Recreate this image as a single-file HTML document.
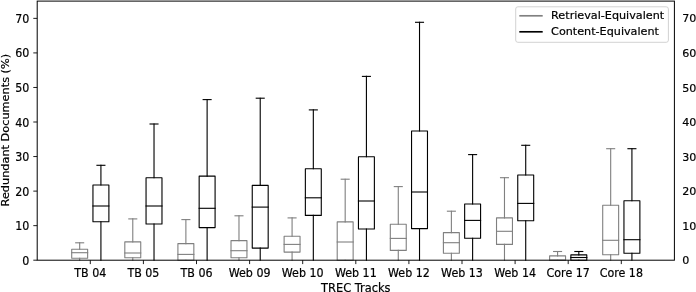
<!DOCTYPE html>
<html><head><meta charset="utf-8"><style>
html,body{margin:0;padding:0;background:#fff;}
body{width:696px;height:292px;overflow:hidden;}
svg{display:block;}
text{font-family:"DejaVu Sans","Liberation Sans",sans-serif;font-size:11.1px;fill:#000;stroke:#000;stroke-width:0.2px;}
</style></head><body>
<svg width="696" height="292" viewBox="0 0 696 292">
<rect width="696" height="292" fill="#fff"/>
<path d="M79.68 258.20V260.20M79.68 249.30V242.80" stroke="#808080" stroke-width="1.11" fill="none" stroke-linecap="square"/>
<path d="M75.70 242.80H83.66" stroke="#808080" stroke-width="1.11" fill="none" stroke-linecap="square"/>
<path d="M71.71 258.20H87.64V249.30H71.71Z" stroke="#808080" stroke-width="1.11" fill="none" stroke-linejoin="round"/>
<path d="M71.71 252.70H87.64" stroke="#808080" stroke-width="1.11" fill="none" stroke-linecap="square"/>
<path d="M100.92 221.80V260.20M100.92 185.00V165.30" stroke="#000" stroke-width="1.11" fill="none" stroke-linecap="square"/>
<path d="M96.94 165.30H104.90" stroke="#000" stroke-width="1.11" fill="none" stroke-linecap="square"/>
<path d="M92.95 221.80H108.89V185.00H92.95Z" stroke="#000" stroke-width="1.11" fill="none" stroke-linejoin="round"/>
<path d="M92.95 206.00H108.89" stroke="#000" stroke-width="1.11" fill="none" stroke-linecap="square"/>
<path d="M132.78 257.80V260.20M132.78 241.90V218.90" stroke="#808080" stroke-width="1.11" fill="none" stroke-linecap="square"/>
<path d="M128.80 218.90H136.76" stroke="#808080" stroke-width="1.11" fill="none" stroke-linecap="square"/>
<path d="M124.81 257.80H140.74V241.90H124.81Z" stroke="#808080" stroke-width="1.11" fill="none" stroke-linejoin="round"/>
<path d="M124.81 253.00H140.74" stroke="#808080" stroke-width="1.11" fill="none" stroke-linecap="square"/>
<path d="M154.02 224.00V260.20M154.02 177.70V124.00" stroke="#000" stroke-width="1.11" fill="none" stroke-linecap="square"/>
<path d="M150.04 124.00H158.00" stroke="#000" stroke-width="1.11" fill="none" stroke-linecap="square"/>
<path d="M146.05 224.00H161.98V177.70H146.05Z" stroke="#000" stroke-width="1.11" fill="none" stroke-linejoin="round"/>
<path d="M146.05 206.00H161.98" stroke="#000" stroke-width="1.11" fill="none" stroke-linecap="square"/>
<path d="M185.88 260.20V260.20M185.88 243.60V219.60" stroke="#808080" stroke-width="1.11" fill="none" stroke-linecap="square"/>
<path d="M181.90 219.60H189.86" stroke="#808080" stroke-width="1.11" fill="none" stroke-linecap="square"/>
<path d="M177.91 260.20H193.84V243.60H177.91Z" stroke="#808080" stroke-width="1.11" fill="none" stroke-linejoin="round"/>
<path d="M177.91 254.40H193.84" stroke="#808080" stroke-width="1.11" fill="none" stroke-linecap="square"/>
<path d="M207.12 227.60V260.20M207.12 176.10V99.60" stroke="#000" stroke-width="1.11" fill="none" stroke-linecap="square"/>
<path d="M203.14 99.60H211.10" stroke="#000" stroke-width="1.11" fill="none" stroke-linecap="square"/>
<path d="M199.16 227.60H215.09V176.10H199.16Z" stroke="#000" stroke-width="1.11" fill="none" stroke-linejoin="round"/>
<path d="M199.16 208.30H215.09" stroke="#000" stroke-width="1.11" fill="none" stroke-linecap="square"/>
<path d="M238.98 257.70V260.20M238.98 240.60V215.80" stroke="#808080" stroke-width="1.11" fill="none" stroke-linecap="square"/>
<path d="M235.00 215.80H242.96" stroke="#808080" stroke-width="1.11" fill="none" stroke-linecap="square"/>
<path d="M231.01 257.70H246.94V240.60H231.01Z" stroke="#808080" stroke-width="1.11" fill="none" stroke-linejoin="round"/>
<path d="M231.01 250.70H246.94" stroke="#808080" stroke-width="1.11" fill="none" stroke-linecap="square"/>
<path d="M260.22 248.10V260.20M260.22 185.40V98.20" stroke="#000" stroke-width="1.11" fill="none" stroke-linecap="square"/>
<path d="M256.24 98.20H264.20" stroke="#000" stroke-width="1.11" fill="none" stroke-linecap="square"/>
<path d="M252.25 248.10H268.18V185.40H252.25Z" stroke="#000" stroke-width="1.11" fill="none" stroke-linejoin="round"/>
<path d="M252.25 207.10H268.18" stroke="#000" stroke-width="1.11" fill="none" stroke-linecap="square"/>
<path d="M292.08 252.10V260.20M292.08 236.20V217.90" stroke="#808080" stroke-width="1.11" fill="none" stroke-linecap="square"/>
<path d="M288.10 217.90H296.06" stroke="#808080" stroke-width="1.11" fill="none" stroke-linecap="square"/>
<path d="M284.12 252.10H300.04V236.20H284.12Z" stroke="#808080" stroke-width="1.11" fill="none" stroke-linejoin="round"/>
<path d="M284.12 244.40H300.04" stroke="#808080" stroke-width="1.11" fill="none" stroke-linecap="square"/>
<path d="M313.32 215.40V260.20M313.32 168.80V109.90" stroke="#000" stroke-width="1.11" fill="none" stroke-linecap="square"/>
<path d="M309.34 109.90H317.30" stroke="#000" stroke-width="1.11" fill="none" stroke-linecap="square"/>
<path d="M305.36 215.40H321.28V168.80H305.36Z" stroke="#000" stroke-width="1.11" fill="none" stroke-linejoin="round"/>
<path d="M305.36 197.80H321.28" stroke="#000" stroke-width="1.11" fill="none" stroke-linecap="square"/>
<path d="M345.18 260.20V260.20M345.18 221.90V179.20" stroke="#808080" stroke-width="1.11" fill="none" stroke-linecap="square"/>
<path d="M341.20 179.20H349.16" stroke="#808080" stroke-width="1.11" fill="none" stroke-linecap="square"/>
<path d="M337.21 260.20H353.14V221.90H337.21Z" stroke="#808080" stroke-width="1.11" fill="none" stroke-linejoin="round"/>
<path d="M337.21 242.00H353.14" stroke="#808080" stroke-width="1.11" fill="none" stroke-linecap="square"/>
<path d="M366.42 229.00V260.20M366.42 156.80V76.40" stroke="#000" stroke-width="1.11" fill="none" stroke-linecap="square"/>
<path d="M362.44 76.40H370.40" stroke="#000" stroke-width="1.11" fill="none" stroke-linecap="square"/>
<path d="M358.45 229.00H374.38V156.80H358.45Z" stroke="#000" stroke-width="1.11" fill="none" stroke-linejoin="round"/>
<path d="M358.45 201.00H374.38" stroke="#000" stroke-width="1.11" fill="none" stroke-linecap="square"/>
<path d="M398.28 250.40V260.20M398.28 224.20V186.60" stroke="#808080" stroke-width="1.11" fill="none" stroke-linecap="square"/>
<path d="M394.30 186.60H402.26" stroke="#808080" stroke-width="1.11" fill="none" stroke-linecap="square"/>
<path d="M390.31 250.40H406.24V224.20H390.31Z" stroke="#808080" stroke-width="1.11" fill="none" stroke-linejoin="round"/>
<path d="M390.31 238.40H406.24" stroke="#808080" stroke-width="1.11" fill="none" stroke-linecap="square"/>
<path d="M419.52 228.60V260.20M419.52 131.00V22.30" stroke="#000" stroke-width="1.11" fill="none" stroke-linecap="square"/>
<path d="M415.54 22.30H423.50" stroke="#000" stroke-width="1.11" fill="none" stroke-linecap="square"/>
<path d="M411.55 228.60H427.48V131.00H411.55Z" stroke="#000" stroke-width="1.11" fill="none" stroke-linejoin="round"/>
<path d="M411.55 192.00H427.48" stroke="#000" stroke-width="1.11" fill="none" stroke-linecap="square"/>
<path d="M451.38 253.20V260.20M451.38 232.60V211.20" stroke="#808080" stroke-width="1.11" fill="none" stroke-linecap="square"/>
<path d="M447.40 211.20H455.36" stroke="#808080" stroke-width="1.11" fill="none" stroke-linecap="square"/>
<path d="M443.41 253.20H459.34V232.60H443.41Z" stroke="#808080" stroke-width="1.11" fill="none" stroke-linejoin="round"/>
<path d="M443.41 242.70H459.34" stroke="#808080" stroke-width="1.11" fill="none" stroke-linecap="square"/>
<path d="M472.62 238.30V260.20M472.62 204.00V154.60" stroke="#000" stroke-width="1.11" fill="none" stroke-linecap="square"/>
<path d="M468.64 154.60H476.60" stroke="#000" stroke-width="1.11" fill="none" stroke-linecap="square"/>
<path d="M464.65 238.30H480.58V204.00H464.65Z" stroke="#000" stroke-width="1.11" fill="none" stroke-linejoin="round"/>
<path d="M464.65 220.40H480.58" stroke="#000" stroke-width="1.11" fill="none" stroke-linecap="square"/>
<path d="M504.48 244.40V260.20M504.48 217.90V177.70" stroke="#808080" stroke-width="1.11" fill="none" stroke-linecap="square"/>
<path d="M500.50 177.70H508.46" stroke="#808080" stroke-width="1.11" fill="none" stroke-linecap="square"/>
<path d="M496.52 244.40H512.45V217.90H496.52Z" stroke="#808080" stroke-width="1.11" fill="none" stroke-linejoin="round"/>
<path d="M496.52 231.30H512.45" stroke="#808080" stroke-width="1.11" fill="none" stroke-linecap="square"/>
<path d="M525.72 220.80V260.20M525.72 175.00V145.30" stroke="#000" stroke-width="1.11" fill="none" stroke-linecap="square"/>
<path d="M521.74 145.30H529.70" stroke="#000" stroke-width="1.11" fill="none" stroke-linecap="square"/>
<path d="M517.75 220.80H533.69V175.00H517.75Z" stroke="#000" stroke-width="1.11" fill="none" stroke-linejoin="round"/>
<path d="M517.75 203.40H533.69" stroke="#000" stroke-width="1.11" fill="none" stroke-linecap="square"/>
<path d="M557.58 260.20V260.20M557.58 255.90V251.50" stroke="#808080" stroke-width="1.11" fill="none" stroke-linecap="square"/>
<path d="M553.60 251.50H561.56" stroke="#808080" stroke-width="1.11" fill="none" stroke-linecap="square"/>
<path d="M549.62 260.20H565.55V255.90H549.62Z" stroke="#808080" stroke-width="1.11" fill="none" stroke-linejoin="round"/>
<path d="M549.62 260.20H565.55" stroke="#808080" stroke-width="1.11" fill="none" stroke-linecap="square"/>
<path d="M578.82 260.20V260.20M578.82 254.90V251.50" stroke="#000" stroke-width="1.11" fill="none" stroke-linecap="square"/>
<path d="M574.84 251.50H582.80" stroke="#000" stroke-width="1.11" fill="none" stroke-linecap="square"/>
<path d="M570.86 260.20H586.79V254.90H570.86Z" stroke="#000" stroke-width="1.11" fill="none" stroke-linejoin="round"/>
<path d="M570.86 257.50H586.79" stroke="#000" stroke-width="1.11" fill="none" stroke-linecap="square"/>
<path d="M610.68 254.70V260.20M610.68 205.30V148.70" stroke="#808080" stroke-width="1.11" fill="none" stroke-linecap="square"/>
<path d="M606.70 148.70H614.66" stroke="#808080" stroke-width="1.11" fill="none" stroke-linecap="square"/>
<path d="M602.71 254.70H618.64V205.30H602.71Z" stroke="#808080" stroke-width="1.11" fill="none" stroke-linejoin="round"/>
<path d="M602.71 240.30H618.64" stroke="#808080" stroke-width="1.11" fill="none" stroke-linecap="square"/>
<path d="M631.92 253.30V260.20M631.92 200.70V148.70" stroke="#000" stroke-width="1.11" fill="none" stroke-linecap="square"/>
<path d="M627.94 148.70H635.90" stroke="#000" stroke-width="1.11" fill="none" stroke-linecap="square"/>
<path d="M623.95 253.30H639.88V200.70H623.95Z" stroke="#000" stroke-width="1.11" fill="none" stroke-linejoin="round"/>
<path d="M623.95 239.70H639.88" stroke="#000" stroke-width="1.11" fill="none" stroke-linecap="square"/>
<rect x="37.20" y="1.10" width="637.20" height="259.10" fill="none" stroke="#000" stroke-width="1.0"/>
<path d="M33.30 260.20H37.20" stroke="#000" stroke-width="0.89"/>
<text transform="translate(29.40 264.75) scale(1 1.07)" text-anchor="end">0</text>
<text x="682.20" y="264.25" text-anchor="start">0</text>
<path d="M33.30 225.65H37.20" stroke="#000" stroke-width="0.89"/>
<text transform="translate(29.40 230.20) scale(1 1.07)" text-anchor="end">10</text>
<text x="682.20" y="229.70" text-anchor="start">10</text>
<path d="M33.30 191.11H37.20" stroke="#000" stroke-width="0.89"/>
<text transform="translate(29.40 195.65) scale(1 1.07)" text-anchor="end">20</text>
<text x="682.20" y="195.15" text-anchor="start">20</text>
<path d="M33.30 156.56H37.20" stroke="#000" stroke-width="0.89"/>
<text transform="translate(29.40 161.11) scale(1 1.07)" text-anchor="end">30</text>
<text x="682.20" y="160.61" text-anchor="start">30</text>
<path d="M33.30 122.01H37.20" stroke="#000" stroke-width="0.89"/>
<text transform="translate(29.40 126.56) scale(1 1.07)" text-anchor="end">40</text>
<text x="682.20" y="126.06" text-anchor="start">40</text>
<path d="M33.30 87.47H37.20" stroke="#000" stroke-width="0.89"/>
<text transform="translate(29.40 92.01) scale(1 1.07)" text-anchor="end">50</text>
<text x="682.20" y="91.51" text-anchor="start">50</text>
<path d="M33.30 52.92H37.20" stroke="#000" stroke-width="0.89"/>
<text transform="translate(29.40 57.47) scale(1 1.07)" text-anchor="end">60</text>
<text x="682.20" y="56.97" text-anchor="start">60</text>
<path d="M33.30 18.37H37.20" stroke="#000" stroke-width="0.89"/>
<text transform="translate(29.40 22.92) scale(1 1.07)" text-anchor="end">70</text>
<text x="682.20" y="22.42" text-anchor="start">70</text>
<path d="M90.30 260.20V264.10" stroke="#000" stroke-width="0.89"/>
<text transform="translate(90.30 276.6) scale(1 1.08)" text-anchor="middle">TB 04</text>
<path d="M143.40 260.20V264.10" stroke="#000" stroke-width="0.89"/>
<text transform="translate(143.40 276.6) scale(1 1.08)" text-anchor="middle">TB 05</text>
<path d="M196.50 260.20V264.10" stroke="#000" stroke-width="0.89"/>
<text transform="translate(196.50 276.6) scale(1 1.08)" text-anchor="middle">TB 06</text>
<path d="M249.60 260.20V264.10" stroke="#000" stroke-width="0.89"/>
<text transform="translate(249.60 276.6) scale(1 1.08)" text-anchor="middle">Web 09</text>
<path d="M302.70 260.20V264.10" stroke="#000" stroke-width="0.89"/>
<text transform="translate(302.70 276.6) scale(1 1.08)" text-anchor="middle">Web 10</text>
<path d="M355.80 260.20V264.10" stroke="#000" stroke-width="0.89"/>
<text transform="translate(355.80 276.6) scale(1 1.08)" text-anchor="middle">Web 11</text>
<path d="M408.90 260.20V264.10" stroke="#000" stroke-width="0.89"/>
<text transform="translate(408.90 276.6) scale(1 1.08)" text-anchor="middle">Web 12</text>
<path d="M462.00 260.20V264.10" stroke="#000" stroke-width="0.89"/>
<text transform="translate(462.00 276.6) scale(1 1.08)" text-anchor="middle">Web 13</text>
<path d="M515.10 260.20V264.10" stroke="#000" stroke-width="0.89"/>
<text transform="translate(515.10 276.6) scale(1 1.08)" text-anchor="middle">Web 14</text>
<path d="M568.20 260.20V264.10" stroke="#000" stroke-width="0.89"/>
<text transform="translate(568.20 276.6) scale(1 1.08)" text-anchor="middle">Core 17</text>
<path d="M621.30 260.20V264.10" stroke="#000" stroke-width="0.89"/>
<text transform="translate(621.30 276.6) scale(1 1.08)" text-anchor="middle">Core 18</text>
<text x="355.80" y="291.6" text-anchor="middle" style="font-size:11.4px">TREC Tracks</text>
<text transform="translate(8.6 130.15) rotate(-90)" text-anchor="middle" style="font-size:11.3px">Redundant Documents (%)</text>
<rect x="515.7" y="6.8" width="152.7" height="35.5" rx="2.2" ry="2.2" fill="#fff" fill-opacity="0.8" stroke="#ccc" stroke-width="0.89"/>
<path d="M519.3 15.8H542.7" stroke="#808080" stroke-width="1.67"/>
<path d="M519.3 31.8H542.7" stroke="#000" stroke-width="1.67"/>
<text x="551.1" y="19.3" style="font-size:11.2px">Retrieval-Equivalent</text>
<text x="551.1" y="35.3" style="font-size:11.2px">Content-Equivalent</text>
</svg>
</body></html>
